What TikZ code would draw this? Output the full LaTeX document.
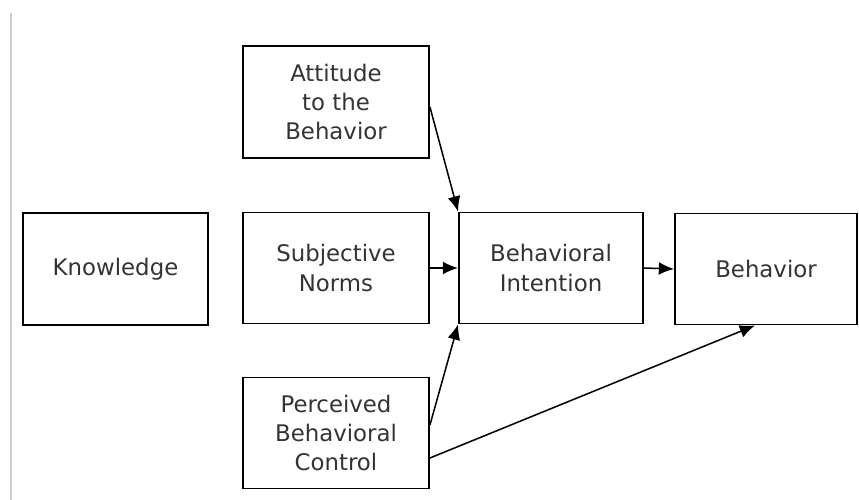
\documentclass[tikz,border=0pt]{standalone}
\usepackage{fontspec}
\setmainfont{DejaVu Sans}
\usetikzlibrary{arrows.meta, positioning, calc}

\begin{document}
\begin{tikzpicture}[>={Latex[length=13pt, width=11pt]}, x=0.03cm, y=-0.03cm,
    block/.style={draw, line width=1.6pt, align=center, inner sep=0pt,
      text=black!80, font=\fontsize{19.5}{25}\selectfont,
      minimum width=5.58cm, minimum height=3.33cm},
    link/.style={->, line width=1.3pt}]
      \useasboundingbox (0,0) rectangle (859,500);
      \draw[gray!40, line width=2pt] (11,13) -- (11,500);

      \node[block, minimum height=3.36cm] (att) at (336,102) {Attitude\\to the\\Behavior};
      \node[block, minimum height=3.36cm, minimum width=5.55cm] (know) at (115.5,269) {Knowledge};
      \node[block] (norms) at (336,268) {Subjective\\Norms};
      \node[block, minimum width=5.52cm] (intent) at (551,268) {Behavioral\\Intention};
      \node[block, minimum width=5.46cm] (beh) at (766,269) {Behavior};
      \node[block] (perc) at (336,433) {Perceived\\Behavioral\\Control};

      \draw[link] ([yshift=-0.15cm]att.east) -- (intent.north west);
      \draw[link] (norms.east) -- (intent.west);
      \draw[link] ([yshift=0.24cm]perc.east) -- (intent.south west);
      \draw[link] (intent.east) -- (beh.west);
      \draw[link] ([yshift=-0.75cm]perc.east) -- ([xshift=-0.33cm]beh.south);
    \end{tikzpicture}
\end{document}
